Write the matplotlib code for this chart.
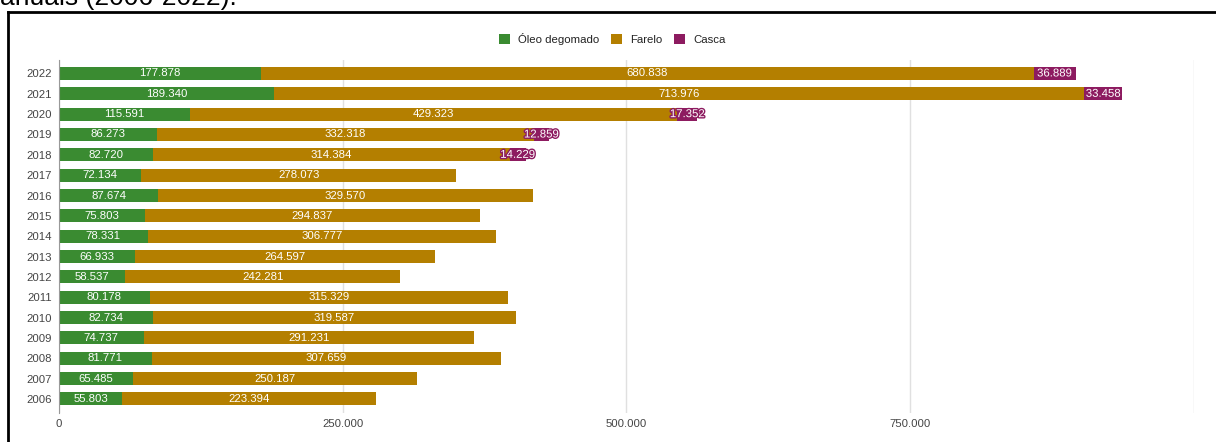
import numpy as np
import matplotlib.pyplot as plt
import matplotlib.patheffects as pe
from matplotlib.lines import Line2D

# Exports by product, 2006-2022
years = ["2006", "2007", "2008", "2009", "2010", "2011", "2012", "2013", "2014",
         "2015", "2016", "2017", "2018", "2019", "2020", "2021", "2022"]
oleo = [55803, 65485, 81771, 74737, 82734, 80178, 58537, 66933, 78331,
        75803, 87674, 72134, 82720, 86273, 115591, 189340, 177878]
farelo = [223394, 250187, 307659, 291231, 319587, 315329, 242281, 264597, 306777,
          294837, 329570, 278073, 314384, 332318, 429323, 713976, 680838]
casca = [0, 0, 0, 0, 0, 0, 0, 0, 0,
         0, 0, 0, 14229, 12859, 17352, 33458, 36889]
series = [("Óleo degomado", oleo, "#3a8b31"),
          ("Farelo", farelo, "#b47f00"),
          ("Casca", casca, "#8d1b60")]
xticks = [0, 250000, 500000, 750000, 1000000]
xticklabels = ["0", "250.000", "500.000", "750.000", ""]


def fmt(v):
    return f"{v:,.0f}".replace(",", ".")


def main():
    plt.rcParams["font.family"] = ["Liberation Sans", "DejaVu Sans"]

    fig = plt.figure(figsize=(12.16, 4.42), dpi=100)
    ax = fig.add_axes([0.0485, 0.0656, 0.9334, 0.7986])

    y = np.arange(len(years))
    left = np.zeros(len(years))
    for name, vals, color in series:
        vals = np.array(vals, dtype=float)
        ax.barh(y, vals, left=left, height=0.64, color=color, label=name, zorder=2)
        for yi, (l, v) in enumerate(zip(left, vals)):
            if v <= 0:
                continue
            txt = ax.text(l + v / 2, yi, fmt(v), ha="center", va="center",
                          color="white", fontsize=8.2, zorder=3)
            if v < 40000:
                txt.set_path_effects([pe.withStroke(linewidth=2, foreground=color)])
        left += vals

    ax.set_xlim(0, 1000000)
    ax.set_ylim(-0.69, 16.66)
    ax.set_yticks(y)
    ax.set_yticklabels(years)
    ax.set_xticks(xticks)
    ax.set_xticklabels(xticklabels)
    ax.tick_params(axis="both", length=0, labelsize=8.2, colors="#444444")
    ax.tick_params(axis="y", pad=5)
    ax.tick_params(axis="x", pad=4)
    ax.grid(axis="x", color="#e0e0e0", linewidth=1, zorder=0)
    for side in ["top", "right", "bottom"]:
        ax.spines[side].set_visible(False)
    ax.spines["left"].set_color("#999999")
    ax.spines["left"].set_zorder(4)

    ax.legend(loc="center", bbox_to_anchor=(0.4875, 1.06), ncol=3, frameon=False,
              fontsize=8.2, handlelength=1.0, handleheight=1.0, handletextpad=0.7,
              columnspacing=1.0, labelcolor="#222222")

    # frame around the chart and caption above it
    fig.add_artist(Line2D([0.0066, 1.0], [0.973, 0.973], color="black", lw=2))
    fig.add_artist(Line2D([0.0066, 0.0066], [0.0, 0.973], color="black", lw=2))
    fig.text(0.0, 0.989, "anuais (2006-2022).", fontsize=19, va="baseline", ha="left")

    fig.savefig("out.png", dpi=100)


if __name__ == "__main__":
    main()
